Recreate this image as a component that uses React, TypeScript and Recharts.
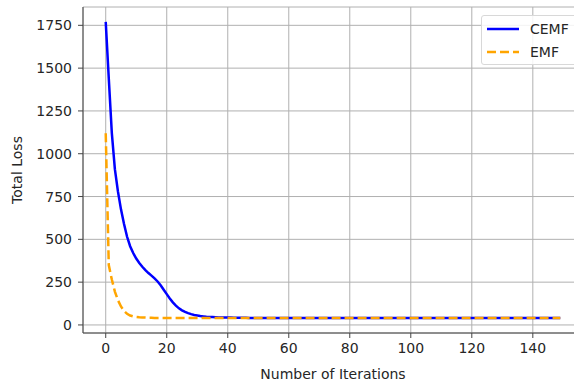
import { LineChart, Line, XAxis, YAxis, CartesianGrid } from 'recharts';

// loss per iteration (index = iteration number)
const cemfLoss = [
  1770, 1440, 1120, 910, 780, 675, 590, 515, 460, 420,
  388, 362, 340, 320, 303, 288, 272, 254, 232, 206,
  180, 155, 132, 113, 97, 85, 76, 69, 63, 58,
  55, 52, 50, 48, 47, 46, 45, 44, 44, 43,
  43, 43, 42, 42, 42, 42, 42, 41, 41, 41,
  41, 41, 41, 41, 41, 41, 41, 41, 41, 41,
  41, 41, 41, 41, 41, 41, 41, 41, 41, 41,
  41, 41, 41, 41, 41, 41, 41, 41, 41, 41,
  40, 40, 40, 40, 40, 40, 40, 40, 40, 40,
  40, 40, 40, 40, 40, 40, 40, 40, 40, 40,
  40, 40, 40, 40, 40, 40, 40, 40, 40, 40,
  40, 40, 40, 40, 40, 40, 40, 40, 40, 40,
  40, 40, 40, 40, 40, 40, 40, 40, 40, 40,
  40, 40, 40, 40, 40, 40, 40, 40, 40, 40,
  40, 40, 40, 40, 40, 40, 40, 40, 40, 40,
];

const emfLoss = [
  1120, 350, 265, 195, 145, 108, 82, 65, 55, 50,
  47, 45, 44, 43, 42, 42, 41, 41, 41, 41,
  40, 40, 40, 40, 40, 40, 40, 40, 40, 40,
  40, 40, 40, 40, 40, 40, 40, 40, 40, 40,
  40, 40, 40, 40, 40, 40, 40, 40, 40, 40,
  40, 40, 40, 40, 40, 40, 40, 40, 40, 40,
  40, 40, 40, 40, 40, 40, 40, 40, 40, 40,
  40, 40, 40, 40, 40, 40, 40, 40, 40, 40,
  40, 40, 40, 40, 40, 40, 40, 40, 40, 40,
  40, 40, 40, 40, 40, 40, 40, 40, 40, 40,
  40, 40, 40, 40, 40, 40, 40, 40, 40, 40,
  40, 40, 40, 40, 40, 40, 40, 40, 40, 40,
  40, 40, 40, 40, 40, 40, 40, 40, 40, 40,
  40, 40, 40, 40, 40, 40, 40, 40, 40, 40,
  40, 40, 40, 40, 40, 40, 40, 40, 40, 40,
];

const xTicks = [0, 20, 40, 60, 80, 100, 120, 140];
const yTicks = [0, 250, 500, 750, 1000, 1250, 1500, 1750];

const data = cemfLoss.map((v, i) => ({ iter: i, CEMF: v, EMF: emfLoss[i] }));

const FONT = '"DejaVu Sans", sans-serif';
const textColor = '#262626';

function LegendBox() {
  return (
    <div style={{
      position: 'absolute', top: 15, left: 481,
      border: '1px solid #d8d8d8', borderRadius: 3, background: 'rgba(255,255,255,0.85)',
      width: 100, height: 50, boxSizing: 'border-box', padding: '1px 0 0 4px', fontFamily: FONT,
      fontSize: 14, color: textColor,
    }}>
      <div style={{ display: 'flex', alignItems: 'center', height: 23 }}>
        <svg width={34} height={10}><line x1={1} y1={5} x2={33} y2={5} stroke="#0000ff" strokeWidth={2.5} /></svg>
        <span style={{ marginLeft: 10 }}>CEMF</span>
      </div>
      <div style={{ display: 'flex', alignItems: 'center', height: 23 }}>
        <svg width={34} height={10}><line x1={1} y1={5} x2={33} y2={5} stroke="#ffa500" strokeWidth={2.5} strokeDasharray="9 4" /></svg>
        <span style={{ marginLeft: 10 }}>EMF</span>
      </div>
    </div>
  );
}

export default function App() {
  return (
    <div style={{ position: 'absolute', left: 0, top: 0, width: 574, height: 383, overflow: 'hidden', background: '#fff' }}>
      <LineChart width={600} height={383} data={data} margin={{ top: 7, right: 17, left: 0, bottom: 0 }}>
        <CartesianGrid stroke="#b0b0b0" strokeWidth={1} />
        <XAxis
          dataKey="iter" type="number" domain={[-7.45, 156.45]} ticks={xTicks} allowDataOverflow
          height={50} stroke="#444" tickSize={5} tickMargin={5}
          tick={{ fill: textColor, fontSize: 14, fontFamily: FONT }}
          label={{ value: 'Number of Iterations', position: 'insideBottom', offset: 4, fill: textColor, fontSize: 14, fontFamily: FONT }}
        />
        <XAxis xAxisId="top" orientation="top" type="number" domain={[-7.45, 156.45]} height={0} tick={false} tickLine={false} stroke="#444" />
        <YAxis
          type="number" domain={[-47, 1857]} ticks={yTicks} allowDataOverflow width={83}
          stroke="#444" tickSize={5} tickMargin={6}
          tick={{ fill: textColor, fontSize: 14, fontFamily: FONT }}
          label={{
            content: () => (
              <text x={22} y={170} transform="rotate(-90 22 170)" textAnchor="middle" fill={textColor} fontSize={14} fontFamily={FONT}>
                Total Loss
              </text>
            ),
          }}
        />
        <Line dataKey="CEMF" stroke="#0000ff" strokeWidth={2.5} dot={false} isAnimationActive={false} />
        <Line dataKey="EMF" stroke="#ffa500" strokeWidth={2.5} strokeDasharray="9 4" dot={false} isAnimationActive={false} />
      </LineChart>
      <LegendBox />
    </div>
  );
}
